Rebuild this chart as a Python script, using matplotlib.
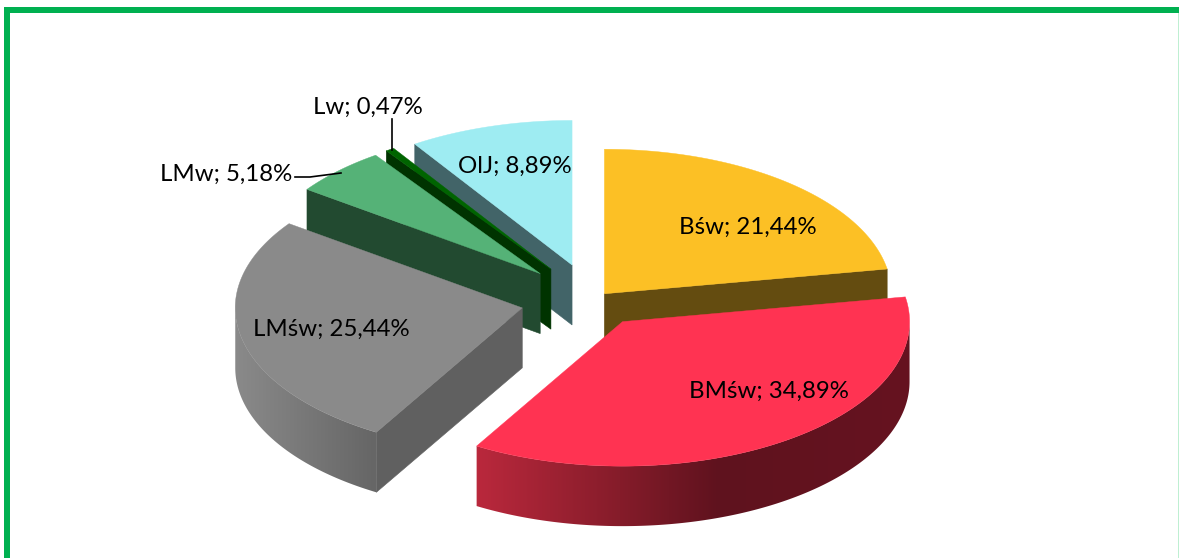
import numpy as np
import matplotlib
matplotlib.use("Agg")
import matplotlib.pyplot as plt
from matplotlib.patches import Rectangle, Polygon
from matplotlib.colors import LinearSegmentedColormap

# ---- data ----
names = ["Bśw", "BMśw", "LMśw", "LMw", "Lw", "OlJ"]
values = [21.44, 34.89, 25.44, 5.18, 0.47, 8.89]

# ---- style ----
explode = [0.06, 0.178, 0.25, 0.26, 0.26, 0.255]
top_colors = ["#FCC025", "#FF3352", "#8A8A8A", "#55B277", "#006400", "#9EECF2"]
side_colors = ["#644C10", "#8A1C2C", "#606060", "#224A30", "#003300", "#426468"]
# gradient stops of the outer wall, as (fraction of pie width, colour)
wall_stops = {
    1: [(0.0, "#C02A40"), (0.25, "#B9283C"), (0.495, "#851C2A"), (0.667, "#5F121E"), (1.0, "#661320")],
    2: [(0.0, "#8A8A8A"), (0.243, "#666666"), (1.0, "#666666")],
}
draw_order = [5, 4, 3, 2, 0, 1]
label_pos = {0: (748, 227.5), 1: (769, 391.5), 2: (331, 329.5), 3: (226, 174), 4: (368, 107), 5: (515, 166.5)}
FONT = "Lato"
FS = 17.3

# ---- geometry (pixel canvas) ----
W, H = 1179, 558
CX, CY = 593.2, 300.4
EX, EY = 290.0, 145.0
RX, RY = 287.0, 144.5
DEPTH = 60.0

fig = plt.figure(figsize=(W / 100, H / 100), dpi=100, facecolor="white")
ax = fig.add_axes([0, 0, 1, 1])

# frame
GREEN = "#00B050"
ax.add_patch(Rectangle((4, 7), W - 4, 6, fc=GREEN, ec="none", zorder=1))
ax.add_patch(Rectangle((4, 7), 6, H - 7, fc=GREEN, ec="none", zorder=1))
ax.add_patch(Rectangle((W - 1.5, 13), 1.5, H - 13, fc="#BFEFD2", ec="none", zorder=1))

total = sum(values)
fracs = np.array(values) / total
edges = np.concatenate([[0], np.cumsum(fracs)]) * 2 * np.pi


def rim(ax0, ay0, theta):
    return ax0 + RX * np.sin(theta), ay0 - RY * np.cos(theta)


ap_x, ap_y = {}, {}
for i in range(len(values)):
    mid = 0.5 * (edges[i] + edges[i + 1])
    ap_x[i] = CX + EX * explode[i] * np.sin(mid)
    ap_y[i] = CY - EY * explode[i] * np.cos(mid)

z = 5
for i in draw_order:
    a0, a1 = edges[i], edges[i + 1]
    px, py = ap_x[i], ap_y[i]
    # flat side walls
    if np.sin(a0) < -1e-6:
        x, y = rim(px, py, a0)
        ax.fill([px, x, x, px], [py, y, y + DEPTH, py + DEPTH], color=side_colors[i], lw=0.4, zorder=z)
    if np.sin(a1) > 1e-6:
        x, y = rim(px, py, a1)
        ax.fill([px, x, x, px], [py, y, y + DEPTH, py + DEPTH], color=side_colors[i], lw=0.4, zorder=z)
    # outer wall, only the part facing the viewer, as a gradient clipped to its outline
    lo, hi = max(a0, np.pi / 2), min(a1, 3 * np.pi / 2)
    if hi > lo:
        th = np.linspace(lo, hi, 200)
        xs, ys = rim(px, py, th)
        outline = np.c_[np.r_[xs, xs[::-1]], np.r_[ys, ys[::-1] + DEPTH]]
        clip = Polygon(outline, closed=True, transform=ax.transData, fc="none", ec="none")
        ax.add_patch(clip)
        cmap = LinearSegmentedColormap.from_list(f"wall{i}", wall_stops[i], N=512)
        im = ax.imshow(np.linspace(0, 1, 1024)[None, :], cmap=cmap, vmin=0, vmax=1, aspect="auto",
                       extent=(px - RX, px + RX, H, 0), zorder=z, interpolation="bilinear")
        im.set_clip_path(clip)
    # top face
    th = np.linspace(a0, a1, 160)
    xs, ys = rim(px, py, th)
    ax.fill(np.r_[px, xs], np.r_[py, ys], color=top_colors[i], lw=0.3, zorder=z)
    z += 1

# leader lines
ax.plot([392, 392], [119, 150], color="black", lw=1.2, zorder=30)
ax.plot([295, 310, 341], [177, 177, 173], color="black", lw=1.2, zorder=30)

# labels
for i, (n, v) in enumerate(zip(names, values)):
    s = f"{n}; {v:.2f}%".replace(".", ",")
    ax.text(*label_pos[i], s, family=[FONT, "DejaVu Sans"], fontsize=FS, color="black",
            ha="center", va="center", zorder=40)

ax.set_xlim(0, W)
ax.set_ylim(H, 0)
ax.axis("off")
fig.savefig("out.png", dpi=100, facecolor="white")
